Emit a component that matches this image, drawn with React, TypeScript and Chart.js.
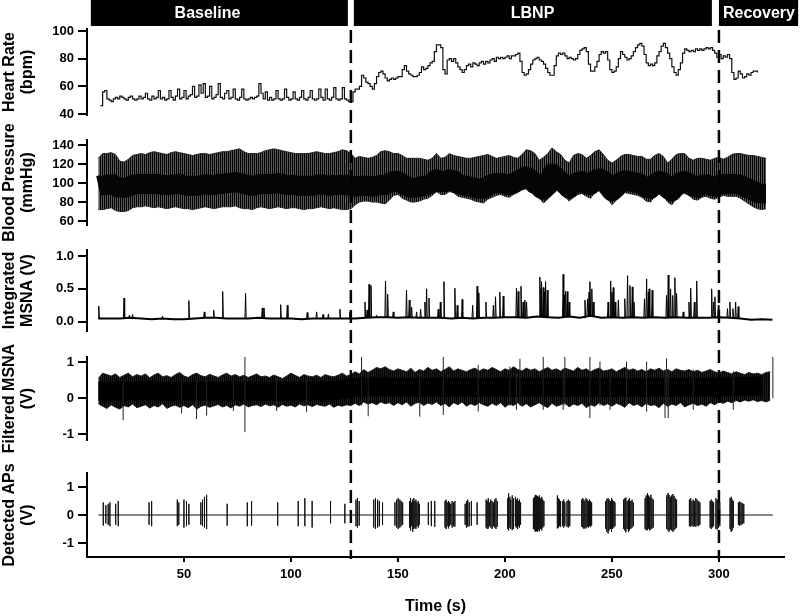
import React, { useEffect, useRef } from 'react';
import { Chart, registerables } from 'chart.js';

Chart.register(...registerables);
Chart.defaults.font.family = '"Liberation Sans", Arial, Helvetica, sans-serif';
Chart.defaults.color = '#000';

// ---------------- data ----------------
const timeTicks = [50, 100, 150, 200, 250, 300];
const timeRange = [4.7, 330.4];

const phaseNames = ['Baseline', 'LBNP', 'Recovery'];
const phaseStart = [6.5, 129.4, 300.0];
const phaseEnd = [126.6, 296.7, 337.0];
const phaseLabelAt = [61.0, 212.9, 318.7];
const phaseBoundaries = [128, 300];

// Heart rate, 1-s bins starting at 11 s (bpm)
const hrStart = 11;
const hrValues = [
  46, 56, 57, 51, 50, 49, 51, 52, 51, 53,
  52, 51, 50, 52, 53, 51, 50, 51, 53, 51,
  52, 55, 51, 50, 53, 51, 52, 57, 51, 52,
  50, 51, 57, 52, 50, 53, 58, 51, 52, 57,
  51, 53, 54, 60, 52, 53, 61, 55, 62, 52,
  53, 60, 51, 52, 54, 62, 52, 51, 55, 57,
  51, 52, 58, 51, 50, 52, 58, 51, 50, 51,
  52, 51, 52, 53, 62, 55, 51, 56, 50, 52,
  50, 51, 57, 51, 50, 51, 58, 52, 50, 51,
  56, 51, 50, 52, 57, 51, 50, 52, 57, 51,
  50, 51, 58, 52, 50, 58, 51, 50, 52, 59,
  51, 50, 51, 59, 51, 50, 49,
  49, 56, 58, 58, 60, 68, 66, 63, 62, 60, 58, 62, 67, 70, 71, 69, 66, 64, 65, 66, 65, 66, 67,
  67, 72, 75, 71, 69, 68, 67, 67, 68, 70,
  74, 72, 73, 75, 77, 78, 85, 90, 90, 88,
  72, 69, 79, 80, 78, 80, 77, 74, 72, 70,
  72, 75, 76, 74, 77, 76, 75, 77, 78, 76,
  78, 77, 79, 80, 78, 81, 80, 81, 80, 81,
  82, 80, 82, 82, 83, 84, 78, 70, 68, 69,
  72, 76, 79, 80, 81, 79, 78, 76, 73, 70,
  68, 68, 75, 82, 84, 83, 84, 82, 80, 81,
  80, 79, 80, 83, 86, 87, 88, 85, 76, 71,
  71, 74, 78, 83, 85, 84, 85, 79, 72, 70,
  71, 74, 80, 85, 83, 81, 79, 80, 82, 85,
  88, 90, 91, 89, 83, 77, 75, 76, 75, 77,
  82, 85, 89, 91, 88, 84, 80, 74, 70, 68,
  72, 77, 84, 87, 86, 85, 86, 85, 87, 86,
  87, 86, 87, 88, 87, 88, 86, 84, 81, 83,
  80, 82, 81, 83, 80, 70, 65, 66, 71, 69,
  66, 67, 69, 68, 70, 71, 71, 70,
];

// Blood pressure envelopes, 2-s bins starting at 10 s (mmHg)
const bpStart = 10;
const bpStep = 2;
const bpSystolic = [
  126, 131, 131, 132, 130, 123, 122, 125, 129, 130,
  131, 130, 132, 133, 132, 131, 130, 132, 133, 132,
  131, 130, 129, 130, 131, 131, 130, 131, 132, 133,
  133, 134, 135, 136, 133, 131, 131, 131, 132, 134,
  135, 136, 135, 134, 133, 132, 131, 131, 131, 131,
  132, 133, 132, 131, 131, 132, 133, 135, 134, 131,
  126, 128, 127, 126, 127, 129, 133, 134, 133, 131,
  131, 129, 126, 126, 126, 126, 125, 124, 126, 131,
  126, 127, 131, 129, 128, 127, 126, 126, 127, 128,
  129, 130, 128, 126, 127, 128, 129, 127, 126, 130,
  135, 134, 131, 124, 127, 131, 137, 133, 130, 124,
  121, 129, 131, 130, 126, 129, 133, 135, 130, 124,
  121, 124, 128, 130, 130, 129, 128, 128, 125, 125,
  129, 131, 128, 121, 125, 130, 131, 131, 126, 124,
  126, 126, 125, 124, 126, 127, 125, 127, 130, 131,
  131, 130, 129, 129, 128, 127, 126,
];
const bpDiastolic = [
  72, 72, 73, 74, 71, 70, 70, 71, 74, 75,
  75, 76, 75, 74, 75, 74, 73, 74, 75, 74,
  73, 73, 72, 73, 74, 75, 74, 73, 74, 75,
  75, 75, 76, 74, 73, 73, 72, 74, 75, 74,
  73, 74, 75, 74, 73, 74, 74, 73, 72, 73,
  73, 74, 75, 74, 73, 74, 73, 72, 72, 73,
  77, 80, 81, 81, 80, 80, 79, 78, 82, 87,
  88, 84, 82, 80, 80, 81, 83, 84, 87, 91,
  88, 88, 91, 90, 86, 85, 84, 83, 81, 80,
  79, 83, 85, 87, 88, 86, 85, 88, 90, 93,
  94, 91, 86, 84, 79, 83, 97, 93, 89, 86,
  81, 85, 88, 89, 86, 84, 90, 92, 90, 84,
  77, 82, 89, 90, 89, 88, 87, 85, 81, 80,
  86, 89, 88, 80, 77, 84, 88, 89, 87, 83,
  82, 85, 86, 84, 83, 85, 87, 86, 86, 86,
  84, 81, 78, 75, 73, 72, 73,
];
const bpCore = [
  97, 98, 98, 99, 97, 95, 95, 96, 98, 99,
  99, 99, 99, 99, 99, 98, 98, 98, 99, 99,
  98, 97, 97, 97, 98, 99, 98, 98, 99, 99,
  100, 100, 101, 100, 99, 98, 97, 98, 99, 99,
  99, 99, 100, 99, 98, 98, 98, 97, 97, 97,
  97, 98, 99, 98, 97, 98, 98, 98, 98, 97,
  96, 97, 97, 97, 96, 97, 98, 98, 100, 102,
  102, 99, 97, 95, 95, 96, 97, 98, 100, 104,
  101, 101, 104, 103, 99, 98, 97, 96, 95, 94,
  94, 97, 99, 100, 100, 99, 98, 100, 102, 105,
  107, 104, 99, 97, 93, 97, 110, 106, 102, 99,
  94, 98, 101, 102, 99, 98, 103, 105, 103, 97,
  91, 95, 101, 103, 102, 101, 100, 98, 95, 94,
  99, 102, 101, 94, 91, 97, 101, 102, 100, 96,
  95, 98, 99, 97, 96, 98, 99, 99, 99, 99,
  98, 96, 94, 92, 90, 89, 89,
];

// Integrated MSNA: baseline level every 5 s from 10 s, plus burst peaks [time, V]
const msnaBaseStart = 10;
const msnaBaseStep = 5;
const msnaBaseline = [
  0.05, 0.05, 0.05, 0.06, 0.05, 0.04, 0.05, 0.04, 0.04, 0.05,
  0.06, 0.06, 0.05, 0.05, 0.05, 0.06, 0.05, 0.05, 0.05, 0.04,
  0.05, 0.05, 0.05, 0.05, 0.05, 0.06, 0.07, 0.07, 0.06, 0.07,
  0.06, 0.06, 0.06, 0.05, 0.06, 0.05, 0.06, 0.06, 0.07, 0.07,
  0.06, 0.08, 0.07, 0.06, 0.08, 0.06, 0.09, 0.06, 0.07, 0.06,
  0.07, 0.06, 0.07, 0.06, 0.07, 0.06, 0.06, 0.06, 0.07, 0.06,
  0.05, 0.03, 0.04, 0.03,
];
const msnaBursts: [number, number][] = [
  [10.2, 0.24], [22.0, 0.36], [24.5, 0.10], [26.0, 0.11], [40.0, 0.08], [52.3, 0.32],
  [59.5, 0.15], [63.9, 0.18], [68.1, 0.46], [78.8, 0.43], [86.6, 0.21], [87.4, 0.21],
  [95.2, 0.26], [98.3, 0.25], [107.6, 0.14], [112.0, 0.15], [115.0, 0.11], [117.5, 0.12],
  [122.9, 0.19], [127.6, 0.15],
  [134.6, 0.30], [135.6, 0.18], [136.5, 0.57], [137.4, 0.55], [140.0, 0.10], [144.2, 0.62],
  [145.2, 0.42], [147.8, 0.15],
  [154.0, 0.48], [155.3, 0.33], [156.4, 0.22], [158.7, 0.15], [160.6, 0.19], [162.6, 0.30],
  [163.4, 0.50], [164.5, 0.36], [168.8, 0.19], [169.8, 0.30], [171.5, 0.61],
  [176.6, 0.51], [177.7, 0.25], [180.0, 0.34], [184.9, 0.25], [187.0, 0.54], [187.8, 0.44],
  [191.1, 0.30], [194.6, 0.25], [195.6, 0.38], [197.6, 0.45], [199.2, 0.39],
  [205.4, 0.51], [206.2, 0.46], [207.5, 0.54], [208.5, 0.30], [209.3, 0.33], [210.1, 0.30],
  [216.3, 0.68], [216.8, 0.50], [217.1, 0.61], [217.9, 0.52], [218.5, 0.45], [219.0, 0.61], [219.8, 0.48],
  [227.2, 0.72], [227.8, 0.40], [228.3, 0.46], [229.1, 0.46], [230.0, 0.30],
  [237.4, 0.33], [238.6, 0.35], [239.3, 0.45], [239.7, 0.61], [240.6, 0.50], [241.3, 0.30],
  [248.2, 0.30], [249.4, 0.62], [250.0, 0.45], [250.6, 0.52], [251.5, 0.30], [253.0, 0.33],
  [256.0, 0.35], [257.3, 0.70], [258.4, 0.55], [259.5, 0.53], [260.3, 0.30],
  [265.2, 0.35], [266.2, 0.65], [267.0, 0.45], [267.4, 0.50], [268.8, 0.48],
  [275.5, 0.40], [276.3, 0.71], [277.4, 0.50], [278.4, 0.40], [279.4, 0.67], [280.2, 0.43],
  [283.3, 0.15], [286.0, 0.30], [286.8, 0.51], [288.5, 0.30], [289.6, 0.62],
  [296.6, 0.50], [297.5, 0.30], [298.1, 0.38], [299.7, 0.25],
  [304.0, 0.20], [305.1, 0.30], [306.5, 0.20], [307.8, 0.30], [309.0, 0.23],
];

// Filtered MSNA envelopes, 2-s bins from 10 s (V)
const filtStart = 10;
const filtStep = 2;
const filtUpper = [
  0.55, 0.70, 0.66, 0.62, 0.68, 0.58, 0.64, 0.70, 0.60, 0.66,
  0.62, 0.68, 0.57, 0.65, 0.70, 0.60, 0.63, 0.58, 0.66, 0.72,
  0.62, 0.58, 0.66, 0.70, 0.63, 0.60, 0.67, 0.62, 0.58, 0.65,
  0.70, 0.62, 0.66, 0.60, 0.64, 0.58, 0.63, 0.68, 0.60, 0.62,
  0.58, 0.65, 0.60, 0.55, 0.62, 0.70, 0.64, 0.58, 0.66, 0.62,
  0.60, 0.64, 0.58, 0.66, 0.62, 0.60, 0.64, 0.70, 0.62, 0.66,
  0.74, 0.68, 0.80, 0.72, 0.78, 0.86, 0.82, 0.88, 0.80, 0.76,
  0.82, 0.78, 0.74, 0.84, 0.72, 0.80, 0.76, 0.86, 0.78, 0.82,
  0.74, 0.80, 0.88, 0.76, 0.82, 0.78, 0.74, 0.80, 0.84, 0.76,
  0.82, 0.78, 0.86, 0.80, 0.74, 0.82, 0.78, 0.88, 0.80, 0.76,
  0.84, 0.78, 0.82, 0.74, 0.80, 0.86, 0.78, 0.82, 0.76, 0.84,
  0.80, 0.76, 0.86, 0.78, 0.82, 0.74, 0.80, 0.84, 0.76, 0.78,
  0.82, 0.74, 0.80, 0.86, 0.78, 0.82, 0.76, 0.80, 0.74, 0.82,
  0.78, 0.84, 0.76, 0.80, 0.74, 0.82, 0.78, 0.76, 0.80, 0.74,
  0.78, 0.72, 0.76, 0.80, 0.74, 0.70, 0.76, 0.72, 0.68, 0.74,
  0.70, 0.66, 0.72, 0.68, 0.70, 0.66, 0.72, 0.74,
];
const filtLower = [
  -0.15, -0.22, -0.28, -0.18, -0.25, -0.30, -0.20, -0.24, -0.16, -0.26,
  -0.22, -0.18, -0.27, -0.20, -0.24, -0.15, -0.28, -0.22, -0.19, -0.25,
  -0.20, -0.26, -0.18, -0.30, -0.22, -0.19, -0.25, -0.21, -0.17, -0.24,
  -0.20, -0.27, -0.18, -0.22, -0.16, -0.24, -0.20, -0.18, -0.23, -0.16,
  -0.21, -0.18, -0.25, -0.17, -0.22, -0.19, -0.24, -0.16, -0.21, -0.18,
  -0.23, -0.17, -0.20, -0.22, -0.16, -0.25, -0.19, -0.22, -0.18, -0.20,
  -0.14, -0.20, -0.10, -0.16, -0.12, -0.18, -0.10, -0.15, -0.12, -0.20,
  -0.12, -0.18, -0.10, -0.22, -0.14, -0.11, -0.20, -0.13, -0.17, -0.10,
  -0.20, -0.14, -0.24, -0.12, -0.18, -0.10, -0.22, -0.15, -0.20, -0.12,
  -0.18, -0.22, -0.14, -0.20, -0.12, -0.25, -0.16, -0.20, -0.12, -0.22,
  -0.15, -0.24, -0.18, -0.12, -0.20, -0.26, -0.14, -0.22, -0.18, -0.12,
  -0.24, -0.16, -0.20, -0.14, -0.26, -0.18, -0.22, -0.12, -0.20, -0.15,
  -0.22, -0.14, -0.18, -0.25, -0.12, -0.20, -0.16, -0.24, -0.14, -0.20,
  -0.18, -0.26, -0.14, -0.22, -0.16, -0.20, -0.12, -0.24, -0.18, -0.14,
  -0.20, -0.16, -0.22, -0.12, -0.18, -0.10, -0.14, -0.08, -0.12, -0.06,
  -0.10, -0.05, -0.08, -0.04, -0.09, -0.06, -0.10, -0.05,
];
// dense core of the filtered trace, 10-s bins from 10 s (V)
const filtCoreStart = 10;
const filtCoreStep = 10;
const filtCore = [
  0.20, 0.20, 0.21, 0.20, 0.20, 0.20, 0.21, 0.20, 0.20, 0.20, 0.20, 0.21,
  0.30, 0.32, 0.30, 0.30, 0.31, 0.30, 0.30, 0.31, 0.30, 0.30, 0.31,
  0.30, 0.30, 0.30, 0.30, 0.30, 0.30, 0.31, 0.33, 0.34,
];
// isolated large deflections [time, top, bottom]
const filtSpikes: [number, number, number][] = [
  [21.6, 0.45, -0.61], [48.9, 0.5, -0.42], [55.9, 0.5, -0.58], [60.6, 0.5, -0.48],
  [73.1, 0.55, -0.35], [78.5, 1.17, -0.94], [93.3, 0.55, -0.35], [107.3, 0.5, -0.38],
  [133.0, 1.17, -0.2], [136.1, 0.7, -0.5], [160.2, 0.7, -0.51], [171.2, 1.16, -0.46],
  [187.5, 0.93, -0.37], [202.3, 0.88, -0.2], [205.4, 0.7, -0.32], [207.0, 1.1, -0.2],
  [217.9, 1.16, -0.32], [227.2, 0.8, -0.32], [228.0, 1.16, -0.2], [239.7, 1.16, -0.55],
  [244.4, 1.02, -0.2], [249.1, 0.8, -0.32], [256.8, 1.02, -0.2], [266.2, 1.02, -0.37],
  [274.8, 0.8, -0.55], [275.5, 1.11, -0.2], [276.3, 0.8, -0.55], [288.0, 0.8, -0.32],
  [306.7, 0.75, -0.32], [325.2, 1.16, 0.0],
];

// Detected action potentials [time, top, bottom]
const apRange = [10, 325.2];
const apSpikes: [number, number, number][] = [
  [12.3, 0.45, -0.38], [13.5, 0.35, -0.3], [14.6, 0.4, -0.35], [15.4, 0.45, -0.4],
  [18.1, 0.4, -0.35], [19.3, 0.5, -0.4], [33.7, 0.45, -0.35], [34.9, 0.5, -0.4],
  [46.9, 0.55, -0.4], [47.6, 0.45, -0.35], [50.0, 0.55, -0.45], [51.2, 0.5, -0.4],
  [52.3, 0.4, -0.35], [57.9, 0.45, -0.35], [58.7, 0.55, -0.4], [59.6, 0.65, -0.45],
  [60.6, 0.72, -0.5], [70.2, 0.4, -0.38], [79.6, 0.45, -0.4], [81.6, 0.5, -0.38],
  [93.8, 0.45, -0.38], [103.4, 0.5, -0.4], [106.5, 0.6, -0.4], [109.9, 0.5, -0.45],
  [118.5, 0.5, -0.3], [125.2, 0.4, -0.3],
  [130.4, 0.55, -0.4], [131.1, 0.6, -0.45], [131.9, 0.5, -0.38], [138.7, 0.55, -0.45],
  [139.5, 0.6, -0.5], [140.5, 0.55, -0.45], [141.3, 0.5, -0.4], [142.8, 0.45, -0.35],
  [148.6, 0.45, -0.38], [149.4, 0.55, -0.45], [150.1, 0.6, -0.5], [150.9, 0.55, -0.45],
  [151.5, 0.5, -0.4], [152.2, 0.45, -0.35],
  [155.4, 0.5, -0.45], [155.9, 0.6, -0.55], [156.4, 0.45, -0.4], [156.9, 0.55, -0.6],
  [157.4, 0.6, -0.5], [157.9, 0.5, -0.45], [158.4, 0.55, -0.5], [158.9, 0.45, -0.4],
  [159.5, 0.5, -0.45], [160.0, 0.4, -0.35],
  [164.2, 0.45, -0.35], [165.6, 0.5, -0.4], [167.2, 0.5, -0.42],
  [172.0, 0.5, -0.45], [172.5, 0.55, -0.5], [173.0, 0.45, -0.4], [173.6, 0.5, -0.48],
  [174.1, 0.45, -0.4], [174.7, 0.4, -0.35], [175.3, 0.5, -0.45], [176.0, 0.45, -0.4],
  [176.6, 0.5, -0.42],
  [181.4, 0.4, -0.35], [182.0, 0.5, -0.45], [182.6, 0.55, -0.42], [183.3, 0.45, -0.4],
  [184.3, 0.5, -0.38], [187.0, 0.45, -0.35],
  [191.2, 0.55, -0.45], [191.7, 0.5, -0.5], [192.2, 0.6, -0.48], [192.8, 0.45, -0.4],
  [193.4, 0.55, -0.45], [194.0, 0.5, -0.5], [194.6, 0.45, -0.4], [195.2, 0.55, -0.45],
  [195.8, 0.6, -0.5], [196.4, 0.5, -0.42],
  [201.3, 0.6, -0.5], [201.7, 0.78, -0.55], [202.3, 0.65, -0.45], [202.7, 0.55, -0.5],
  [203.4, 0.7, -0.54], [203.8, 0.6, -0.45], [204.2, 0.5, -0.5], [204.9, 0.65, -0.4],
  [205.3, 0.55, -0.45], [205.9, 0.6, -0.5], [206.2, 0.5, -0.4], [206.8, 0.55, -0.45],
  [207.3, 0.45, -0.35],
  [213.3, 0.6, -0.5], [213.8, 0.65, -0.55], [214.2, 0.72, -0.6], [214.7, 0.7, -0.58],
  [215.2, 0.68, -0.6], [215.6, 0.65, -0.55], [216.1, 0.7, -0.58], [216.7, 0.6, -0.5],
  [217.2, 0.65, -0.55], [217.7, 0.55, -0.45], [218.2, 0.5, -0.4],
  [224.5, 0.7, -0.48], [225.0, 0.6, -0.45], [225.5, 0.55, -0.4], [226.0, 0.5, -0.42],
  [227.0, 0.5, -0.4], [227.5, 0.55, -0.45], [228.0, 0.45, -0.38], [229.0, 0.5, -0.42],
  [229.6, 0.55, -0.45], [230.3, 0.5, -0.4],
  [235.9, 0.55, -0.42], [236.4, 0.6, -0.45], [236.9, 0.55, -0.5], [237.4, 0.5, -0.45],
  [237.9, 0.6, -0.48], [238.5, 0.55, -0.42], [239.0, 0.5, -0.45], [239.5, 0.55, -0.4],
  [240.0, 0.5, -0.42], [240.5, 0.45, -0.38],
  [247.1, 0.5, -0.5], [247.6, 0.58, -0.6], [248.2, 0.6, -0.66], [248.7, 0.55, -0.55],
  [249.3, 0.5, -0.5], [249.8, 0.6, -0.6], [250.3, 0.55, -0.5], [250.9, 0.5, -0.45],
  [251.4, 0.45, -0.4],
  [255.4, 0.55, -0.5], [256.0, 0.6, -0.55], [256.5, 0.62, -0.62], [257.1, 0.5, -0.5],
  [257.7, 0.55, -0.6], [258.2, 0.6, -0.55], [258.8, 0.5, -0.5], [259.4, 0.55, -0.45],
  [260.0, 0.45, -0.4],
  [265.5, 0.6, -0.5], [266.0, 0.7, -0.55], [266.6, 0.78, -0.54], [267.1, 0.7, -0.5],
  [267.6, 0.65, -0.55], [268.2, 0.72, -0.52], [268.7, 0.6, -0.48], [269.3, 0.55, -0.45],
  [275.6, 0.7, -0.5], [276.2, 0.78, -0.55], [276.7, 0.72, -0.6], [277.3, 0.65, -0.52],
  [277.9, 0.7, -0.55], [278.5, 0.75, -0.6], [279.0, 0.68, -0.55], [279.6, 0.6, -0.5],
  [280.2, 0.55, -0.45],
  [286.2, 0.55, -0.4], [286.8, 0.6, -0.42], [287.4, 0.5, -0.38], [288.0, 0.55, -0.42],
  [288.6, 0.5, -0.4], [289.2, 0.6, -0.42], [289.8, 0.55, -0.38], [290.5, 0.5, -0.4],
  [291.1, 0.45, -0.35],
  [295.9, 0.5, -0.45], [296.4, 0.55, -0.5], [296.9, 0.5, -0.45], [297.5, 0.45, -0.4],
  [298.6, 0.6, -0.5], [299.2, 0.55, -0.52], [299.8, 0.5, -0.45], [300.4, 0.45, -0.4],
  [305.2, 0.6, -0.5], [305.7, 0.65, -0.6], [306.2, 0.55, -0.55], [306.7, 0.5, -0.45],
  [309.1, 0.45, -0.35], [309.7, 0.48, -0.38], [310.3, 0.45, -0.36], [310.9, 0.42, -0.33],
  [311.6, 0.4, -0.3],
];

// ---------------- helpers ----------------
type Pt = { x: number; y: number | null };
const series = (start: number, step: number, vals: number[]): Pt[] =>
  vals.map((y, i) => ({ x: start + i * step, y }));

function msnaSpikePoints(): Pt[] {
  const pts: Pt[] = [];
  msnaBursts.forEach(([t, h]) => {
    const idx = Math.min(msnaBaseline.length - 1, Math.max(0, Math.round((t - msnaBaseStart) / msnaBaseStep)));
    const base = msnaBaseline[idx];
    pts.push({ x: t - 0.3, y: base }, { x: t, y: h }, { x: t + 0.3, y: base }, { x: t + 0.3, y: null });
  });
  return pts;
}

function filtSpikePoints(): Pt[] {
  const pts: Pt[] = [];
  filtSpikes.forEach(([t, hi, lo]) => {
    pts.push({ x: t, y: lo }, { x: t, y: hi }, { x: t, y: null });
  });
  return pts;
}

function apPoints(): Pt[] {
  const pts: Pt[] = [{ x: apRange[0], y: 0 }];
  apSpikes.forEach(([t, hi, lo]) => {
    pts.push({ x: t, y: 0 }, { x: t, y: hi }, { x: t, y: lo }, { x: t, y: 0 });
  });
  pts.push({ x: apRange[1], y: 0 });
  return pts;
}

function stripe(ctx: CanvasRenderingContext2D, dark: string, light: string) {
  const c = document.createElement('canvas');
  c.width = 2;
  c.height = 1;
  const g = c.getContext('2d')!;
  g.fillStyle = light;
  g.fillRect(0, 0, 2, 1);
  g.fillStyle = dark;
  g.fillRect(0, 0, 1, 1);
  return ctx.createPattern(c, 'repeat');
}

const FONT = '"Liberation Sans", Arial, Helvetica, sans-serif';
const H = 616;

const overlayPlugin = {
  id: 'overlay',
  afterDraw(chart: any, _args: any, opts: any) {
    const { ctx } = chart;
    const xs = chart.scales.x;
    ctx.save();
    if (opts.header) {
      ctx.fillStyle = '#000';
      phaseNames.forEach((_n, i) => {
        const x0 = xs.getPixelForValue(phaseStart[i]);
        const x1 = xs.getPixelForValue(phaseEnd[i]);
        ctx.fillRect(x0, 0, x1 - x0, 26);
      });
      ctx.fillStyle = '#fff';
      ctx.font = `bold 16px ${FONT}`;
      ctx.textAlign = 'center';
      ctx.textBaseline = 'middle';
      phaseNames.forEach((n, i) => ctx.fillText(n, xs.getPixelForValue(phaseLabelAt[i]), 14));
    }
    if (opts.dashes) {
      ctx.strokeStyle = '#000';
      ctx.lineWidth = 2.5;
      ctx.setLineDash([13, 7]);
      ctx.lineDashOffset = 18;
      phaseBoundaries.forEach((t) => {
        const x = xs.getPixelForValue(t);
        ctx.beginPath();
        ctx.moveTo(x, 28);
        ctx.lineTo(x, 559);
        ctx.stroke();
      });
    }
    ctx.restore();
  },
};

type PanelDef = {
  areaTop: number;
  areaBottom: number;
  yMin: number;
  yMax: number;
  yTicks: number[];
  yTitle: string[];
  yFmt?: (v: number) => string;
  showX?: boolean;
  header?: boolean;
  dashes?: boolean;
  datasets: (ctx: CanvasRenderingContext2D) => any[];
};

function buildOptions(p: PanelDef) {
  const tickFont = { size: 13, weight: 'bold' as const };
  const yTicksOpt: any = { font: tickFont, color: '#000', padding: 4, autoSkip: false };
  if (p.yFmt) yTicksOpt.callback = (v: any) => p.yFmt!(Number(v));
  const xOpt: any = {
    type: 'linear',
    min: timeRange[0],
    max: timeRange[1],
    display: !!p.showX,
    afterBuildTicks: (s: any) => {
      s.ticks = timeTicks.map((v) => ({ value: v }));
    },
    border: { display: true, color: '#000', width: 2 },
    grid: { drawOnChartArea: false, drawTicks: true, tickLength: 5, lineWidth: 2, color: '#000' },
    ticks: { font: tickFont, color: '#000', padding: 5, maxRotation: 0, autoSkip: false },
    title: {
      display: true,
      text: 'Time (s)',
      font: { size: 16, weight: 'bold' },
      color: '#000',
      padding: 0,
    },
  };
  if (p.showX) {
    xOpt.afterFit = (s: any) => {
      s.height = H - p.areaBottom;
    };
  }
  return {
    responsive: false,
    animation: false,
    events: [],
    layout: {
      padding: { left: 0, right: 16, top: p.areaTop, bottom: p.showX ? 0 : H - p.areaBottom },
    },
    plugins: {
      legend: { display: false },
      tooltip: { enabled: false },
      overlay: { header: !!p.header, dashes: !!p.dashes },
    },
    elements: { point: { radius: 0 }, line: { tension: 0 } },
    scales: {
      x: xOpt,
      y: {
        type: 'linear',
        min: p.yMin,
        max: p.yMax,
        afterBuildTicks: (s: any) => {
          s.ticks = p.yTicks.map((v) => ({ value: v }));
        },
        afterFit: (s: any) => {
          s.width = 87;
        },
        border: { display: true, color: '#000', width: 2 },
        grid: { drawOnChartArea: false, drawTicks: true, tickLength: 9, lineWidth: 2, color: '#000' },
        ticks: yTicksOpt,
        title: {
          display: true,
          text: p.yTitle,
          font: { size: 16, weight: 'bold', lineHeight: 1.15 },
          color: '#000',
          padding: 0,
        },
      },
    },
  };
}

const line = (data: Pt[], extra: any = {}) => ({
  data,
  borderColor: '#000',
  borderWidth: 1,
  pointRadius: 0,
  fill: false,
  ...extra,
});

const PANELS: PanelDef[] = [
  {
    areaTop: 29, areaBottom: 115,
    yMin: 39.3, yMax: 101.4, yTicks: [40, 60, 80, 100], yTitle: ['Heart Rate', '(bpm)'],
    header: true,
    datasets: () => [line(series(hrStart, 1, hrValues), { stepped: true, borderWidth: 1.2, borderColor: '#111' })],
  },
  {
    areaTop: 140, areaBottom: 225,
    yMin: 55.8, yMax: 145.3, yTicks: [60, 80, 100, 120, 140], yTitle: ['Blood Pressure', '(mmHg)'],
    datasets: (ctx) => [
      line(series(bpStart, bpStep, bpCore), { borderWidth: 20, borderColor: '#050505', borderJoinStyle: 'round' }),
      line(series(bpStart, bpStep, bpSystolic), {
        borderColor: '#222',
        fill: '+1',
        backgroundColor: stripe(ctx, '#000', '#5a5a5a'),
      }),
      line(series(bpStart, bpStep, bpDiastolic), { borderColor: '#222' }),
    ],
  },
  {
    areaTop: 250, areaBottom: 331,
    yMin: -0.14, yMax: 1.09, yTicks: [0, 0.5, 1], yTitle: ['Integrated', 'MSNA (V)'],
    yFmt: (v) => v.toFixed(1),
    datasets: () => [
      line(msnaSpikePoints(), { borderWidth: 1, borderColor: '#000', spanGaps: false }),
      line(series(msnaBaseStart, msnaBaseStep, msnaBaseline), { borderWidth: 2, borderColor: '#000' }),
    ],
  },
  {
    areaTop: 357, areaBottom: 440,
    yMin: -1.16, yMax: 1.15, yTicks: [-1, 0, 1], yTitle: ['Filtered MSNA', '(V)'],
    datasets: (ctx) => [
      line(filtSpikePoints(), { borderColor: '#222', spanGaps: false }),
      line(series(filtCoreStart, filtCoreStep, filtCore), { borderWidth: 19, borderColor: '#000', borderJoinStyle: 'round' }),
      line(series(filtStart, filtStep, filtUpper), {
        borderColor: '#222',
        fill: '+1',
        backgroundColor: stripe(ctx, '#000', '#1e1e1e'),
      }),
      line(series(filtStart, filtStep, filtLower), { borderColor: '#222' }),
    ],
  },
  {
    areaTop: 473, areaBottom: 557,
    yMin: -1.5, yMax: 1.5, yTicks: [-1, 0, 1], yTitle: ['Detected APs', '(V)'],
    showX: true, dashes: true,
    datasets: () => [line(apPoints(), { borderColor: '#111' })],
  },
];

function Panel({ def }: { def: PanelDef }) {
  const ref = useRef<HTMLCanvasElement>(null);
  useEffect(() => {
    const canvas = ref.current!;
    const ctx = canvas.getContext('2d')!;
    const chart = new Chart(canvas, {
      type: 'line',
      data: { datasets: def.datasets(ctx) },
      options: buildOptions(def) as any,
      plugins: [overlayPlugin as any],
    });
    return () => chart.destroy();
  }, [def]);
  return (
    <canvas
      ref={ref}
      width={800}
      height={H}
      style={{ position: 'absolute', left: 0, top: 0, width: 800, height: H, display: 'block' }}
    />
  );
}

export default function App() {
  return (
    <div style={{ position: 'absolute', left: 0, top: 0, width: 800, height: H, background: '#fff', overflow: 'hidden' }}>
      {PANELS.map((p, i) => (
        <Panel key={i} def={p} />
      ))}
    </div>
  );
}
